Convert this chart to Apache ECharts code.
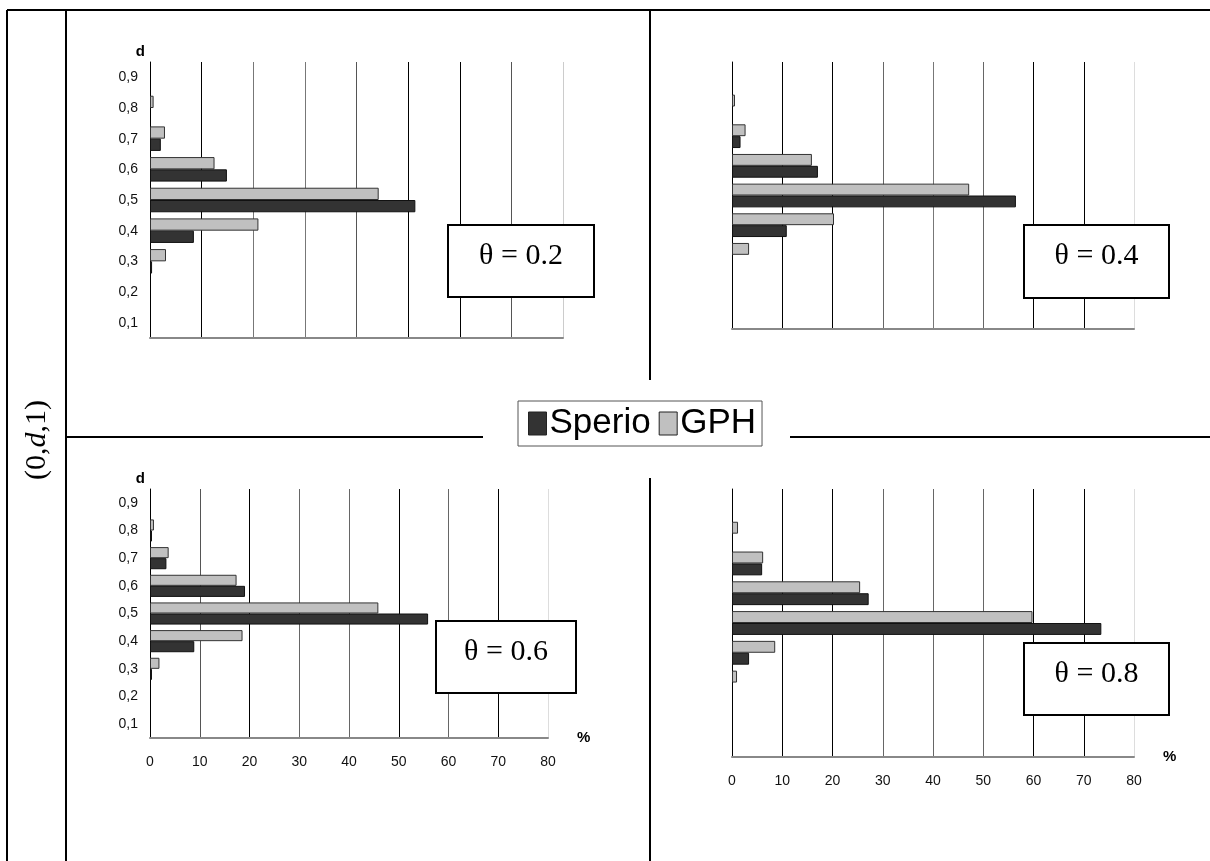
<!DOCTYPE html>
<html>
<head>
<meta charset="utf-8">
<script src="https://cdn.jsdelivr.net/npm/echarts@6/dist/echarts.min.js"></script>
<style>
html,body{margin:0;padding:0;background:#fff;}
#chart{width:1210px;height:861px;}
</style>
</head>
<body>
<div id="chart"></div>
<script>
// ---- data ----
const categories = ['0,1','0,2','0,3','0,4','0,5','0,6','0,7','0,8','0,9'];
const xTicks = [0,10,20,30,40,50,60,70,80];
const panelTitles = ['\u03b8 = 0.2','\u03b8 = 0.4','\u03b8 = 0.6','\u03b8 = 0.8'];
const seriesNames = ['Sperio','GPH'];
const sperio02 = [0,0,0.4,8.5,51.4,14.9,2.1,0,0];
const gph02    = [0,0,3.1,21.0,44.3,12.5,2.9,0.7,0];
const sperio04 = [0,0,0,10.9,56.5,17.1,1.7,0,0];
const gph04    = [0,0,3.4,20.3,47.2,15.9,2.7,0.6,0];
const sperio06 = [0,0,0.4,8.9,55.9,19.1,3.3,0.4,0];
const gph06    = [0,0,1.9,18.6,45.9,17.4,3.75,0.8,0];
const sperio08 = [0,0,0,3.4,73.5,27.2,6.0,0,0];
const gph08    = [0,0,1.0,8.6,59.8,25.5,6.2,1.2,0];

const sperioSets = [sperio02, sperio04, sperio06, sperio08];
const gphSets = [gph02, gph04, gph06, gph08];

// ---- layout ----
const grids = [
  {left:150, top:62,  width:413, height:276},
  {left:732, top:62,  width:402, height:267},
  {left:150, top:489, width:398, height:249},
  {left:732, top:489, width:402, height:268}
];
const splitColors = [
  ['#000','#000','#777','#777','#555','#000','#000','#555','#ccc'],
  ['#000','#000','#000','#666','#777','#666','#000','#000','#ddd'],
  ['#000','#555','#000','#666','#666','#000','#666','#000','#ddd'],
  ['#000','#000','#000','#666','#666','#666','#000','#000','#ddd']
];
const showYLabels = [true,false,true,false];
const showXLabels = [false,false,true,true];
const thetaBoxes = [
  {x:448, y:225, w:146, h:72},
  {x:1024,y:225, w:145, h:73},
  {x:436, y:621, w:140, h:72},
  {x:1024,y:643, w:145, h:72}
];

const xAxes = grids.map((g,i)=>({
  type:'value', gridIndex:i, min:xTicks[0], max:xTicks[xTicks.length-1], interval:xTicks[1]-xTicks[0],
  axisLine:{show:true, onZero:false, lineStyle:{color:'#888', width:2}},
  axisTick:{show:false},
  axisLabel:{show:showXLabels[i], fontFamily:'Liberation Sans', fontSize:14, color:'#111', margin:17},
  splitLine:{show:true, lineStyle:{color:splitColors[i], width:1}},
  name: showXLabels[i] ? '%' : '',
  nameLocation:'end', nameGap:29,
  nameTextStyle:{fontFamily:'Liberation Sans', fontSize:15, fontWeight:'bold', color:'#000', align:'left', verticalAlign:'middle', padding:[0,0,2,0]}
}));
const yAxes = grids.map((g,i)=>({
  type:'category', gridIndex:i, data:categories,
  axisLine:{show:true, lineStyle:{color:'#000', width:1}},
  axisTick:{show:false},
  axisLabel:{show:showYLabels[i], fontFamily:'Liberation Sans', fontSize:14, color:'#111', margin:12},
  splitLine:{show:false},
  name: showYLabels[i] ? 'd' : '',
  nameLocation:'end', nameGap:3,
  nameTextStyle:{fontFamily:'Liberation Sans', fontSize:15, fontWeight:'bold', color:'#000', align:'right', padding:[0,5,0,0]}
}));

const nz = v => (v === 0 ? null : v);
const series = [];
grids.forEach((g,i)=>{
  series.push({
    name:'GPH', type:'bar', xAxisIndex:i, yAxisIndex:i,
    data: gphSets[i].map(nz),
    barGap:'0%', barCategoryGap:'20%',
    itemStyle:{color:'#c0c0c0', borderColor:'#333', borderWidth:1},
    emphasis:{disabled:true}, animation:false
  });
  series.push({
    name:'Sperio', type:'bar', xAxisIndex:i, yAxisIndex:i,
    data: sperioSets[i].map(nz),
    barGap:'0%', barCategoryGap:'20%',
    itemStyle:{color:'#333333', borderColor:'#111', borderWidth:1},
    emphasis:{disabled:true}, animation:false
  });
});

const lineStyle = {stroke:'#000', lineWidth:2};
const graphics = [
  {type:'line', shape:{x1:7, y1:10, x2:1210, y2:10}, style:lineStyle, z:100},
  {type:'line', shape:{x1:7, y1:10, x2:7, y2:861}, style:lineStyle, z:100},
  {type:'line', shape:{x1:66, y1:10, x2:66, y2:861}, style:lineStyle, z:100},
  {type:'line', shape:{x1:650, y1:10, x2:650, y2:380}, style:lineStyle, z:100},
  {type:'line', shape:{x1:650, y1:478, x2:650, y2:861}, style:lineStyle, z:100},
  {type:'line', shape:{x1:66, y1:437, x2:483, y2:437}, style:lineStyle, z:100},
  {type:'line', shape:{x1:790, y1:437, x2:1210, y2:437}, style:lineStyle, z:100},
  {type:'text', x:37, y:440, rotation:Math.PI/2, z:100,
   style:{text:'(0,{i|d},1)', fontFamily:'Liberation Serif', fontSize:30, fill:'#000',
          align:'center', verticalAlign:'middle',
          rich:{i:{fontFamily:'Liberation Serif', fontStyle:'italic', fontSize:30, fill:'#000'}}}}
];
thetaBoxes.forEach((b,i)=>{
  graphics.push({type:'rect', shape:{x:b.x, y:b.y, width:b.w, height:b.h},
    style:{fill:'#fff', stroke:'#000', lineWidth:2}, z:100});
  graphics.push({type:'text', x:b.x + b.w/2, y:b.y + b.h/2 - 5, z:101,
    style:{text:panelTitles[i], fontFamily:'Liberation Serif', fontSize:30, fill:'#000',
           align:'center', verticalAlign:'middle'}});
});

const option = {
  backgroundColor:'#fff',
  animation:false,
  grid: grids.map(g=>Object.assign({containLabel:false}, g)),
  xAxis: xAxes,
  yAxis: yAxes,
  legend:{
    data: seriesNames,
    left:518, top:401,
    orient:'horizontal',
    itemWidth:18, itemHeight:23, itemGap:8,
    padding:[5,6,5,10],
    borderColor:'#555', borderWidth:1, backgroundColor:'#fff',
    selectedMode:false,
    icon:'rect',
    textStyle:{fontFamily:'Liberation Sans', fontSize:35, color:'#000', padding:[0,0,0,-2]},
    itemStyle:{borderWidth:1, borderColor:'#222'}
  },
  graphic: graphics,
  series: series
};
const chart = echarts.init(document.getElementById('chart'), null, {renderer:'canvas'});
chart.setOption(option);
</script>
</body>
</html>
